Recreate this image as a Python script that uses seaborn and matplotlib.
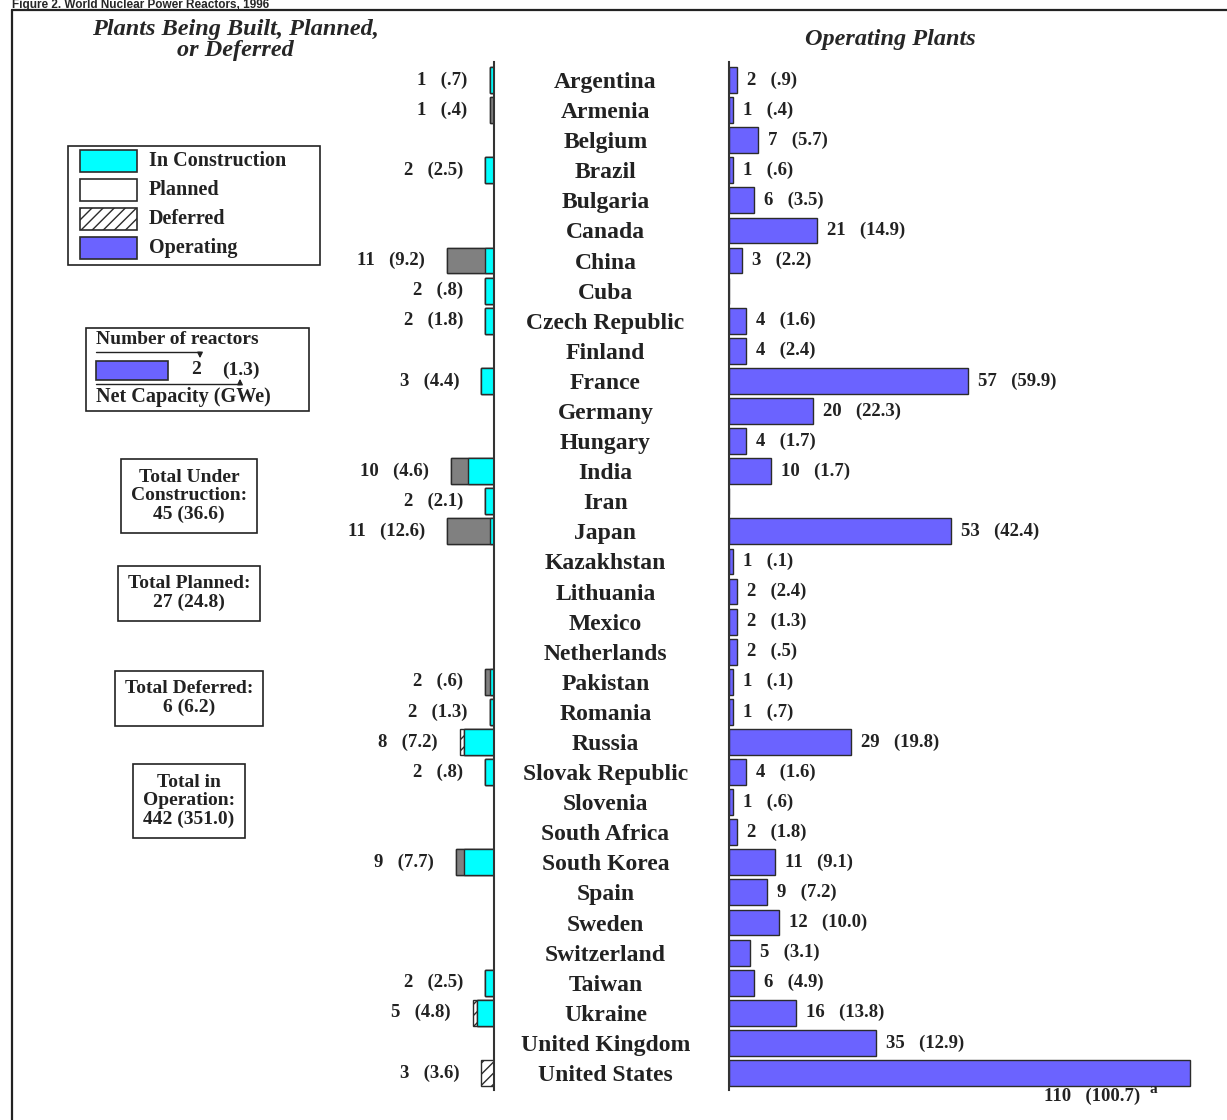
import matplotlib
matplotlib.use("Agg")
import matplotlib.pyplot as plt
from matplotlib.patches import Rectangle
import seaborn as sns
import pandas as pd


# World nuclear power reactors by country
countries = ["Argentina", "Armenia", "Belgium", "Brazil", "Bulgaria", "Canada", "China",
             "Cuba", "Czech Republic", "Finland", "France", "Germany", "Hungary", "India",
             "Iran", "Japan", "Kazakhstan", "Lithuania", "Mexico", "Netherlands", "Pakistan",
             "Romania", "Russia", "Slovak Republic", "Slovenia", "South Africa", "South Korea",
             "Spain", "Sweden", "Switzerland", "Taiwan", "Ukraine", "United Kingdom",
             "United States"]

# operating plants: number of reactors and net capacity (GWe)
operating = [2, 1, 7, 1, 6, 21, 3, 0, 4, 4, 57, 20, 4, 10, 0, 53, 1, 2, 2, 2, 1, 1, 29, 4,
             1, 2, 11, 9, 12, 5, 6, 16, 35, 110]
operating_cap = [0.9, 0.4, 5.7, 0.6, 3.5, 14.9, 2.2, None, 1.6, 2.4, 59.9, 22.3, 1.7, 1.7,
                 None, 42.4, 0.1, 2.4, 1.3, 0.5, 0.1, 0.7, 19.8, 1.6, 0.6, 1.8, 9.1, 7.2,
                 10.0, 3.1, 4.9, 13.8, 12.9, 100.7]

# plants being built, planned or deferred
construction = [1, 0, 0, 2, 0, 0, 2, 2, 2, 0, 3, 0, 0, 6, 2, 1, 0, 0, 0, 0, 1, 1, 7, 2,
                0, 0, 7, 0, 0, 0, 2, 4, 0, 0]
planned = [0, 1, 0, 0, 0, 0, 9, 0, 0, 0, 0, 0, 0, 4, 0, 10, 0, 0, 0, 0, 1, 0, 0, 0,
           0, 0, 2, 0, 0, 0, 0, 0, 0, 0]
deferred = [0, 0, 0, 0, 0, 0, 0, 0, 0, 0, 0, 0, 0, 0, 0, 0, 0, 0, 0, 0, 0, 0, 1, 0,
            0, 0, 0, 0, 0, 0, 0, 1, 0, 3]
pending_n = [1, 1, 0, 2, 0, 0, 11, 2, 2, 0, 3, 0, 0, 10, 2, 11, 0, 0, 0, 0, 2, 2, 8, 2,
             0, 0, 9, 0, 0, 0, 2, 5, 0, 3]
pending_cap = [0.7, 0.4, None, 2.5, None, None, 9.2, 0.8, 1.8, None, 4.4, None, None, 4.6,
               2.1, 12.6, None, None, None, None, 0.6, 1.3, 7.2, 0.8, None, None, 7.7,
               None, None, None, 2.5, 4.8, None, 3.6]

totals = [("Total Under\nConstruction:\n45 (36.6)", 496),
          ("Total Planned:\n27 (24.8)", 593),
          ("Total Deferred:\n6 (6.2)", 698),
          ("Total in\nOperation:\n442 (351.0)", 801)]

CYAN = "#00FFFF"
GREY = "#808080"
BLUE = "#6B63FF"
EDGE = "#2b2b2b"
INK = "#222222"
SERIF = "Liberation Serif"

df = pd.DataFrame({"country": countries, "operating": operating,
                   "c": construction, "p": planned, "d": deferred})
df["cp"] = df["c"] + df["p"]
df["cpd"] = df["cp"] + df["d"]


def cap_str(v):
    return f"{v:.1f}".lstrip("0")


sns.set_theme(style="white")
plt.rcParams["font.family"] = [SERIF, "DejaVu Serif"]
plt.rcParams["hatch.linewidth"] = 1.0

W, H = 1227, 1120
fig = plt.figure(figsize=(W / 100, H / 100), dpi=100)

top_px, bot_px = 62, 1090
row0, step = 80, 30.09
ylim = ((bot_px - row0) / step, (top_px - row0) / step)


def px_axes(x0, x1):
    return fig.add_axes([x0 / W, 1 - bot_px / H, (x1 - x0) / W, (bot_px - top_px) / H])


# left panel: bars grow to the left
ax_l = px_axes(300, 494)
bar_kw = dict(y="country", orient="h", order=countries, width=0.86, saturation=1,
              edgecolor=EDGE, linewidth=1.0, ax=ax_l)
sns.barplot(data=df, x="cpd", color="white", hatch="///", **bar_kw)
sns.barplot(data=df, x="cp", color=GREY, **bar_kw)
sns.barplot(data=df, x="c", color=CYAN, **bar_kw)
ax_l.set_xlim(194 / 4.25, 0)
ax_l.set_ylim(*ylim)
ax_l.set_xlabel("")
ax_l.set_ylabel("")
ax_l.set_xticks([])
ax_l.set_yticks([])
for s in ["left", "top", "bottom"]:
    ax_l.spines[s].set_visible(False)
ax_l.spines["right"].set_color("#333333")
ax_l.spines["right"].set_linewidth(1.5)
ax_l.patch.set_visible(False)

for i, (n, cap) in enumerate(zip(pending_n, pending_cap)):
    if n == 0:
        continue
    ax_l.annotate(f"{n}   ({cap_str(cap)})", xy=(df["cpd"][i], i), xytext=(-22, 0),
                  textcoords="offset pixels", ha="right", va="center",
                  fontsize=13.5, fontweight="bold", color=INK)

# right panel: operating plants
ax_r = px_axes(729, 1227)
sns.barplot(data=df, x="operating", y="country", orient="h", order=countries,
            color=BLUE, width=0.86, edgecolor=EDGE, linewidth=1.0, saturation=1, ax=ax_r)
ax_r.set_xlim(0, 498 / 4.19)
ax_r.set_ylim(*ylim)
ax_r.set_xlabel("")
ax_r.set_ylabel("")
ax_r.set_xticks([])
for s in ["right", "top", "bottom"]:
    ax_r.spines[s].set_visible(False)
ax_r.spines["left"].set_color("#333333")
ax_r.spines["left"].set_linewidth(1.5)
ax_r.patch.set_visible(False)
ax_r.tick_params(axis="y", length=0, pad=89)
for lab in ax_r.get_yticklabels():
    lab.set_horizontalalignment("center")
    lab.set_fontsize(17)
    lab.set_fontweight("bold")
    lab.set_color(INK)

for i, (n, cap) in enumerate(zip(operating, operating_cap)):
    if n == 0:
        continue
    if countries[i] == "United States":
        ax_r.annotate(f"{n}   ({cap_str(cap)})", xy=(n, i), xytext=(-50, -23),
                      textcoords="offset pixels", ha="right", va="center",
                      fontsize=13.5, fontweight="bold", color=INK)
        ax_r.annotate("a", xy=(n, i), xytext=(-40, -17), textcoords="offset pixels",
                      ha="left", va="center", fontsize=11, fontweight="bold", color=INK)
        continue
    ax_r.annotate(f"{n}   ({cap_str(cap)})", xy=(n, i), xytext=(10, 0),
                  textcoords="offset pixels", ha="left", va="center",
                  fontsize=13.5, fontweight="bold", color=INK)

# overlay in pixel coordinates for frame, headers and legend boxes
ov = fig.add_axes([0, 0, 1, 1], zorder=-1)
ov.set_xlim(0, W)
ov.set_ylim(H, 0)
ov.axis("off")

ov.text(12, 8, "Figure 2. World Nuclear Power Reactors, 1996", ha="left",
        va="baseline", fontsize=8.5, fontweight="bold", family="Liberation Sans")
ov.plot([12, W], [10, 10], color=INK, lw=1.6)
ov.plot([12, 12], [10, H], color=INK, lw=1.6)

ov.text(235, 40, "Plants Being Built, Planned,\nor Deferred", ha="center", va="center",
        fontsize=17.5, fontweight="bold", style="italic", linespacing=1.0)
ov.text(890, 39, "Operating Plants", ha="center", va="center",
        fontsize=17.5, fontweight="bold", style="italic")

# key box
ov.add_patch(Rectangle((68, 146), 252, 119, fc="white", ec=INK, lw=1.2))
key = [("In Construction", CYAN, None), ("Planned", "white", None),
       ("Deferred", "white", "///"), ("Operating", BLUE, None)]
for k, (name, fc, hatch) in enumerate(key):
    yc = 161 + k * 29
    ov.add_patch(Rectangle((80, yc - 11), 57, 22, fc=fc, ec=EDGE, lw=1.2, hatch=hatch))
    ov.text(149, yc, name, ha="left", va="center", fontsize=14.5, fontweight="bold",
            color=INK)

# how to read the labels
ov.add_patch(Rectangle((86, 328), 223, 83, fc="white", ec=INK, lw=1.2))
ov.text(96, 339, "Number of reactors", ha="left", va="center", fontsize=14,
        fontweight="bold", color=INK)
ov.plot([96, 200], [352, 352], color=INK, lw=1.0)
ov.annotate("", xy=(200, 361), xytext=(200, 351),
            arrowprops=dict(arrowstyle="-|>", color=INK, lw=1.0, mutation_scale=8))
ov.add_patch(Rectangle((96, 361), 72, 19, fc=BLUE, ec=EDGE, lw=1.2))
ov.text(196, 370, "2", ha="center", va="center", fontsize=14, fontweight="bold",
        color=INK)
ov.text(241, 370, "(1.3)", ha="center", va="center", fontsize=14, fontweight="bold",
        color=INK)
ov.plot([96, 240], [384, 384], color=INK, lw=1.0)
ov.annotate("", xy=(240, 376), xytext=(240, 385),
            arrowprops=dict(arrowstyle="-|>", color=INK, lw=1.0, mutation_scale=8))
ov.text(96, 397, "Net Capacity (GWe)", ha="left", va="center", fontsize=14.5,
        fontweight="bold", color=INK)

for txt, yc in totals:
    ov.text(189, yc, txt, ha="center", va="center", fontsize=14, fontweight="bold",
            color=INK, linespacing=1.1,
            bbox=dict(boxstyle="square,pad=0.5", fc="white", ec=INK, lw=1.2))

fig.savefig("out.png", dpi=100)
